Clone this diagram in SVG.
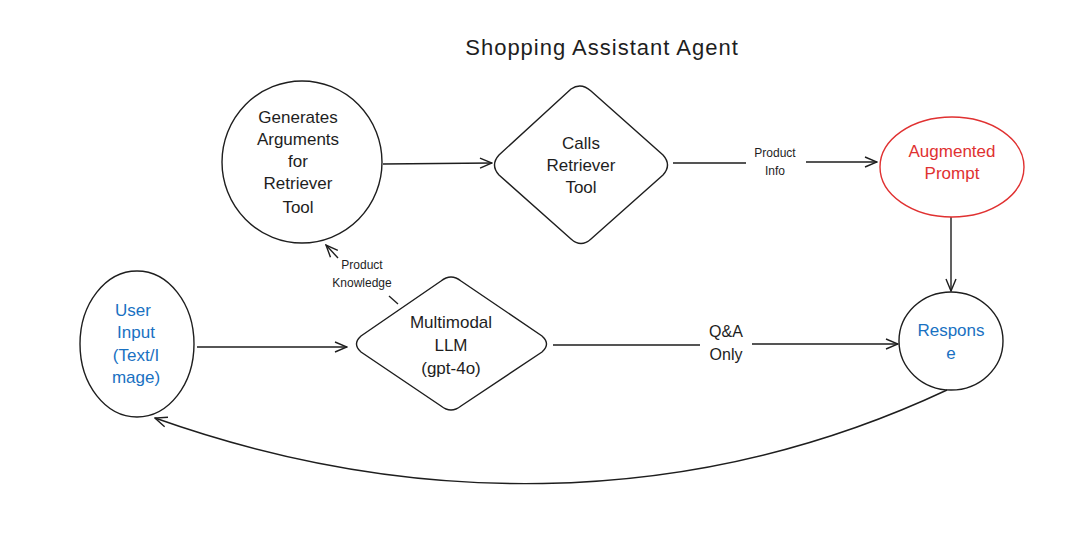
<svg xmlns="http://www.w3.org/2000/svg" width="1065" height="535" viewBox="0 0 1065 535">
<style>
.shape{fill:none;stroke:#1e1e1e;stroke-width:1.4}
.conn{fill:none;stroke:#1e1e1e;stroke-width:1.4}
text{font-family:"Liberation Sans","Noto Sans",sans-serif;text-anchor:middle;dominant-baseline:central;fill:#1e1e1e}
.t{font-size:17px}
.s{font-size:12px}
.blue{fill:#1971c2}
.red{fill:#e03131}
</style>
<defs>
<marker id="ah" markerWidth="14" markerHeight="12" refX="13" refY="6" orient="auto" markerUnits="userSpaceOnUse">
<path d="M1,1 L13,6 L1,11" fill="none" stroke="#1e1e1e" stroke-width="1.4"/>
</marker>
</defs>
<rect width="1065" height="535" fill="#ffffff"/>
<text x="602" y="47" style="font-size:22px;letter-spacing:1px">Shopping Assistant Agent</text>

<g id="connectors">
<path class="conn" d="M383,164 L492,163" marker-end="url(#ah)"/>
<path class="conn" d="M673,163 L746,163 M806,162 L877,162" marker-end="url(#ah)"/>
<path class="conn" d="M951,217 L951,291" marker-end="url(#ah)"/>
<path class="conn" d="M197,347 L347,347" marker-end="url(#ah)"/>
<path class="conn" d="M553,345 L700,345 M752,344 L898,344" marker-end="url(#ah)"/>
<path class="conn" d="M398,304 L389,296"/>
<path class="conn" d="M338,258 L326,245" marker-end="url(#ah)"/>
<path class="conn" d="M947,390 C680,515 400,505 155,418" marker-end="url(#ah)"/>
<text class="s" x="775" y="153">Product</text>
<text class="s" x="775" y="171">Info</text>
<text x="726" y="331" style="font-size:16px">Q&amp;A</text>
<text x="726" y="354" style="font-size:16px">Only</text>
<text class="s" x="362" y="265">Product</text>
<text class="s" x="362" y="283">Knowledge</text>
</g>

<g id="gen-args">
<ellipse class="shape" cx="302" cy="162" rx="80" ry="81"/>
<text class="t" x="298" y="117">Generates</text>
<text class="t" x="298" y="139">Arguments</text>
<text class="t" x="298" y="161">for</text>
<text class="t" x="298" y="183">Retriever</text>
<text class="t" x="298" y="207">Tool</text>
</g>

<g id="calls-retriever">
<path class="shape" d="M571,89 Q581,82 591,91 L663,155 Q672,165 663,175 L591,239 Q581,248 571,239 L499,175 Q490,165 499,155 Z"/>
<text class="t" x="581" y="143">Calls</text>
<text class="t" x="581" y="165">Retriever</text>
<text class="t" x="581" y="187">Tool</text>
</g>

<g id="augmented-prompt">
<ellipse cx="952" cy="167" rx="72" ry="50" fill="none" stroke="#e03131" stroke-width="1.4"/>
<text class="t red" x="952" y="151">Augmented</text>
<text class="t red" x="952" y="173">Prompt</text>
</g>

<g id="response">
<ellipse class="shape" cx="951" cy="341" rx="52" ry="49"/>
<text class="t blue" x="951" y="330">Respons</text>
<text class="t blue" x="951" y="353">e</text>
</g>

<g id="user-input">
<ellipse class="shape" cx="137" cy="344" rx="57" ry="73"/>
<text class="t blue" x="133" y="310">User</text>
<text class="t blue" x="136" y="332">Input</text>
<text class="t blue" x="136" y="355">(Text/I</text>
<text class="t blue" x="136" y="377">mage)</text>
</g>

<g id="llm">
<path class="shape" d="M441,281 Q451,273 461,281 L542,336 Q551,344 542,352 L461,406 Q451,414 441,406 L361,352 Q352,344 361,336 Z"/>
<text class="t" x="451" y="322">Multimodal</text>
<text class="t" x="451" y="345">LLM</text>
<text class="t" x="451" y="368">(gpt-4o)</text>
</g>
</svg>
